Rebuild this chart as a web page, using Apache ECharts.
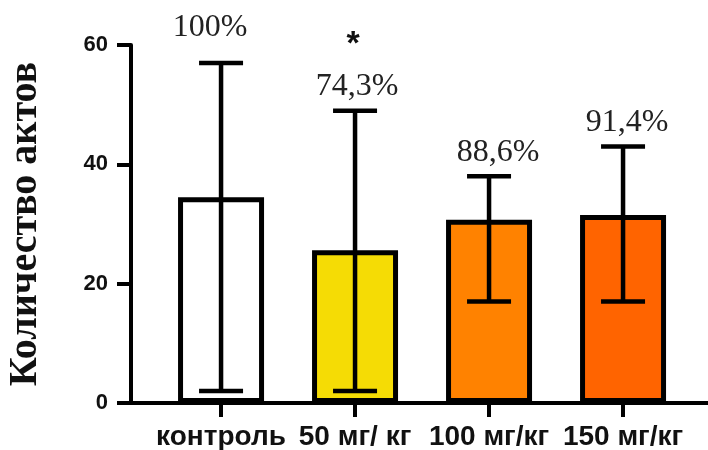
<!DOCTYPE html>
<html>
<head>
<meta charset="utf-8">
<script src="https://cdn.jsdelivr.net/npm/echarts@6/dist/echarts.min.js"></script>
<style>
  html, body { margin: 0; padding: 0; background: #fff; }
  #chart { width: 708px; height: 450px; }
</style>
</head>
<body>
<div id="chart"></div>
<script>
// data
const categories = ['контроль', '50 мг/ кг', '100 мг/кг', '150 мг/кг'];
const means = [34.5, 25.6, 30.7, 31.5];
const errLow = [2, 2, 17, 17];
const errHigh = [57, 49, 38, 43];
const percents = ['100%', '74,3%', '88,6%', '91,4%'];
const marks = ['', '*', '', ''];
const yTicks = [0, 20, 40, 60];

const barColors = ['#ffffff', '#f5dc05', '#ff8200', '#ff6400'];

const chart = echarts.init(document.getElementById('chart'));

const catIdx = categories.map((c, i) => i);

chart.setOption({
  animation: false,
  grid: { left: 131, right: 0, top: 45, bottom: 47, outerBoundsMode: 'none' },
  xAxis: {
    type: 'value',
    min: -0.672,
    max: 3.634,
    splitLine: { show: false },
    axisLine: { onZero: false, lineStyle: { color: '#000', width: 4 } },
    axisTick: { show: true, customValues: catIdx, length: 14, lineStyle: { color: '#000', width: 4 } },
    axisLabel: {
      customValues: catIdx,
      formatter: v => categories[Math.round(v)],
      margin: 20,
      color: '#111',
      fontFamily: 'Liberation Sans',
      fontWeight: 'bold',
      fontSize: 28
    }
  },
  yAxis: {
    type: 'value',
    min: 0,
    max: 60,
    interval: 20,
    splitLine: { show: false },
    axisLine: { show: true, onZero: false, lineStyle: { color: '#000', width: 4 } },
    axisTick: { show: true, length: 14, lineStyle: { color: '#000', width: 4 } },
    axisLabel: {
      formatter: v => yTicks.includes(v) ? String(v) : '',
      margin: 23,
      color: '#111',
      fontFamily: 'Liberation Sans',
      fontWeight: 'bold',
      fontSize: 22
    },
    name: 'Количество актов',
    nameLocation: 'middle',
    nameRotate: 90,
    nameGap: 85,
    nameTextStyle: {
      color: '#111',
      fontFamily: 'Liberation Serif',
      fontWeight: 'bold',
      fontSize: 40
    }
  },
  series: [
    {
      type: 'bar',
      barWidth: 86,
      data: means.map((m, i) => ({
        value: [i, m],
        itemStyle: { color: barColors[i], borderColor: '#000', borderWidth: 5 }
      }))
    },
    {
      type: 'custom',
      z: 5,
      data: means.map((m, i) => [i, errLow[i], errHigh[i]]),
      renderItem: (params, api) => {
        const i = api.value(0);
        const lo = api.coord([i, api.value(1)]);
        const hi = api.coord([i, api.value(2)]);
        const half = 22;
        const ls = { stroke: '#000', lineWidth: 4.5 };
        const lift = i === 0 ? 35 : 24;
        const shift = [-11, 2, 9, 4][i];
        const children = [
          { type: 'line', shape: { x1: hi[0], y1: hi[1], x2: lo[0], y2: lo[1] }, style: ls },
          { type: 'line', shape: { x1: hi[0] - half, y1: hi[1], x2: hi[0] + half, y2: hi[1] }, style: ls },
          { type: 'line', shape: { x1: lo[0] - half, y1: lo[1], x2: lo[0] + half, y2: lo[1] }, style: ls },
          {
            type: 'text',
            style: {
              x: hi[0] + shift, y: hi[1] - lift,
              text: percents[i],
              fill: '#222',
              font: '32px "Liberation Serif"',
              align: 'center', verticalAlign: 'middle'
            }
          }
        ];
        if (marks[i]) {
          children.push({
            type: 'text',
            style: {
              x: hi[0] - 2, y: hi[1] - 66,
              text: marks[i],
              fill: '#111',
              font: 'bold 34px "Liberation Sans"',
              align: 'center', verticalAlign: 'middle'
            }
          });
        }
        return { type: 'group', children };
      }
    }
  ]
});
</script>
</body>
</html>
